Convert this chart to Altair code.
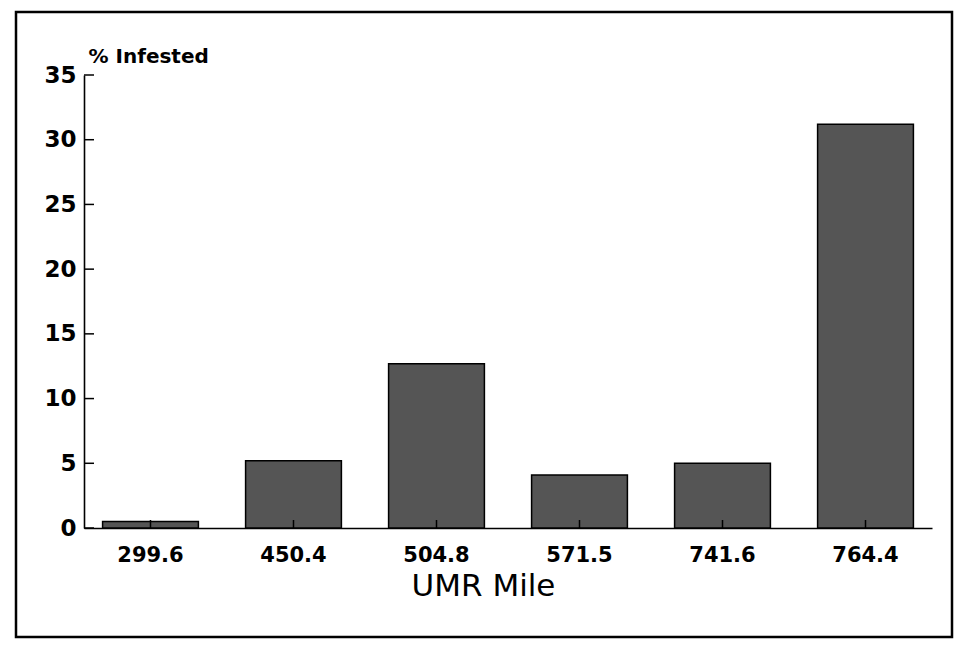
import altair as alt
import pandas as pd

# Data
miles = ["299.6", "450.4", "504.8", "571.5", "741.6", "764.4"]
pct_infested = [0.5, 5.2, 12.7, 4.1, 5.0, 31.2]
y_ticks = [0, 5, 10, 15, 20, 25, 30, 35]

df = pd.DataFrame({"mile": miles, "pct": pct_infested})
ticks_df = pd.DataFrame({"v": y_ticks})
frame_df = pd.DataFrame({"a": [0]})

W, H = 848, 453

xscale = alt.Scale(paddingInner=0.33, paddingOuter=0.13)
yscale = alt.Scale(domain=[0, 35])

x_axis = alt.Axis(
    labelAngle=0, tickSize=0, labelPadding=16,
    labelFont="DejaVu Sans", labelFontWeight="bold", labelFontSize=21, labelColor="black",
    domainColor="black", domainWidth=1.6,
    title="UMR Mile", titleFont="DejaVu Sans", titleFontWeight="normal", titleFontSize=31,
    titleColor="black", titleX=399, titleY=67, titleAlign="center", titleBaseline="alphabetic",
    titleAnchor="start",
)
y_axis = alt.Axis(
    values=y_ticks, tickSize=0, labelPadding=8, grid=False,
    labelFont="DejaVu Sans", labelFontWeight="bold", labelFontSize=23, labelColor="black",
    domainColor="black", domainWidth=1.6,
    title="% Infested", titleAngle=0, titleAlign="left", titleBaseline="alphabetic",
    titleX=4, titleY=-13, titleFont="DejaVu Sans", titleFontWeight="bold", titleFontSize=20,
    titleColor="black", titleAnchor="start",
)

bars = alt.Chart(df).mark_bar(fill="#555555", stroke="black", strokeWidth=1.5).encode(
    x=alt.X("mile:N", sort=None, scale=xscale, axis=x_axis),
    y=alt.Y("pct:Q", scale=yscale, axis=y_axis),
)

xticks = alt.Chart(df).mark_rule(color="black", strokeWidth=1.5).encode(
    x=alt.X("mile:N", sort=None, scale=xscale, bandPosition=0.5),
    y=alt.value(H),
    y2=alt.value(H - 8),
)

yticks = alt.Chart(ticks_df).mark_rule(color="black", strokeWidth=1.5).encode(
    y=alt.Y("v:Q", scale=yscale),
    x=alt.value(0),
    x2=alt.value(10),
)

frame = alt.Chart(frame_df).mark_rect(fill=None, stroke="black", strokeWidth=2.5).encode(
    x=alt.value(-68), x2=alt.value(868), y=alt.value(-63), y2=alt.value(562),
)

chart = alt.layer(frame, bars, xticks, yticks).properties(
    width=W, height=H, autosize="none",
    padding={"left": 76, "top": 67, "right": 24, "bottom": 114},
    background="white",
).configure_view(stroke=None)

chart.save("out.html", embed_options={"renderer": "svg", "actions": False})
